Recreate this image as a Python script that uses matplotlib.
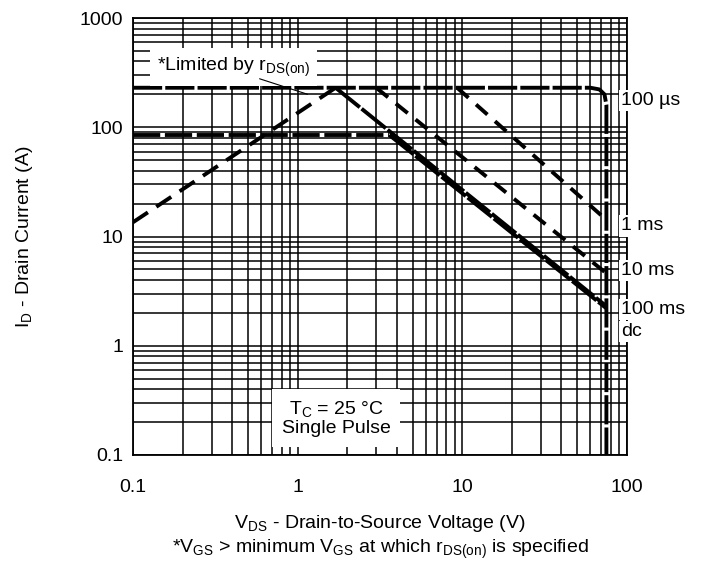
import matplotlib
matplotlib.use('Agg')
import matplotlib.pyplot as plt

plt.rcParams['font.family'] = ['Liberation Sans', 'DejaVu Sans']
plt.rcParams['mathtext.fontset'] = 'custom'
plt.rcParams['mathtext.rm'] = 'Liberation Sans'
plt.rcParams['font.size'] = 14

# Safe operating area (V, A)
vds_rds = [0.1, 1.70]
id_rds = [13.5, 230]

vds_100us = [0.1, 60, 68, 73, 75, 75]
id_100us = [230, 230, 222, 200, 160, 0.1]

vds_pkg = [0.1, 3.6]
id_pkg = [85, 85]

vds_1ms = [9.3, 75]
id_1ms = [230, 14.2]

vds_10ms = [3.0, 75]
id_10ms = [230, 4.6]

vds_100ms = [1.70, 75]
id_100ms = [230, 2.3]

vds_dc = [3.6, 75]
id_dc = [85, 2.2]

x_ticks = [0.1, 1, 10, 100]
x_labels = ['0.1', '1', '10', '100']
y_ticks = [0.1, 1, 10, 100, 1000]
y_labels = ['0.1', '1', '10', '100', '1000']

if __name__ == '__main__':
    fig = plt.figure(figsize=(7.01, 5.65), dpi=100)
    ax = fig.add_axes([0.1897, 0.1947, 0.7047, 0.7734])
    ax.set_xscale('log')
    ax.set_yscale('log')
    ax.set_xlim(0.1, 100)
    ax.set_ylim(0.1, 1000)

    ax.grid(True, which='both', color='black', linewidth=1.1)
    ax.set_axisbelow(True)
    for s in ax.spines.values():
        s.set_linewidth(1.3)

    ax.set_xticks(x_ticks, x_labels)
    ax.set_yticks(y_ticks, y_labels)
    ax.tick_params(which='both', length=0)
    ax.tick_params(axis='x', pad=17)
    ax.tick_params(axis='y', pad=7)

    lw = 2.8
    ax.plot(vds_rds, id_rds, color='black', lw=lw, dashes=(4.6, 2.6))
    ax.plot(vds_100us, id_100us, color='black', lw=lw, dashes=(7.5, 0.8))
    ax.plot(vds_pkg, id_pkg, color='black', lw=lw, dashes=(7.0, 1.2))
    ax.plot(vds_1ms, id_1ms, color='black', lw=lw, dashes=(3.9, 2.6))
    ax.plot(vds_10ms, id_10ms, color='black', lw=lw, dashes=(3.9, 2.6))
    ax.plot(vds_100ms, id_100ms, color='black', lw=lw, dashes=(8, 0.6))
    ax.plot(vds_dc, id_dc, color='black', lw=lw, dashes=(8, 0.6))

    white = dict(facecolor='white', edgecolor='none', pad=1.5)

    # curve labels to the right of the frame
    ax.text(92, 177, '100 µs', ha='left', va='center', bbox=white, clip_on=False, zorder=5)
    ax.text(92, 12.5, '1 ms', ha='left', va='center', bbox=white, clip_on=False, zorder=5)
    ax.text(92, 4.9, '10 ms', ha='left', va='center', bbox=white, clip_on=False, zorder=5)
    ax.text(92, 2.16, '100 ms', ha='left', va='center', bbox=white, clip_on=False, zorder=5)
    ax.text(92, 1.36, 'dc', ha='left', va='center', bbox=white, clip_on=False, zorder=5)

    ax.text(0.41, 356, '*Limited by r$_\\mathrm{DS(on)}$', ha='center', va='center',
            bbox=dict(facecolor='white', edgecolor='none', pad=5), zorder=5)
    ax.annotate('', xy=(1.19, 197), xytext=(0.566, 283),
                arrowprops=dict(arrowstyle='-', color='black', lw=0.8), zorder=6)

    ax.text(1.71, 0.215, 'T$_\\mathrm{C}$ = 25 °C\nSingle Pulse', ha='center', va='center',
            linespacing=1.0, bbox=dict(facecolor='white', edgecolor='none', pad=7), zorder=5)

    ax.set_xlabel('V$_\\mathrm{DS}$ - Drain-to-Source Voltage (V)')
    ax.xaxis.set_label_coords(0.5, -0.133)
    ax.set_ylabel('I$_\\mathrm{D}$ - Drain Current (A)')
    ax.yaxis.set_label_coords(-0.198, 0.5)
    ax.text(0.5, -0.215, '*V$_\\mathrm{GS}$ > minimum V$_\\mathrm{GS}$ at which r$_\\mathrm{DS(on)}$ is specified',
            transform=ax.transAxes, ha='center', va='center')

    fig.savefig('out.png', dpi=100)
